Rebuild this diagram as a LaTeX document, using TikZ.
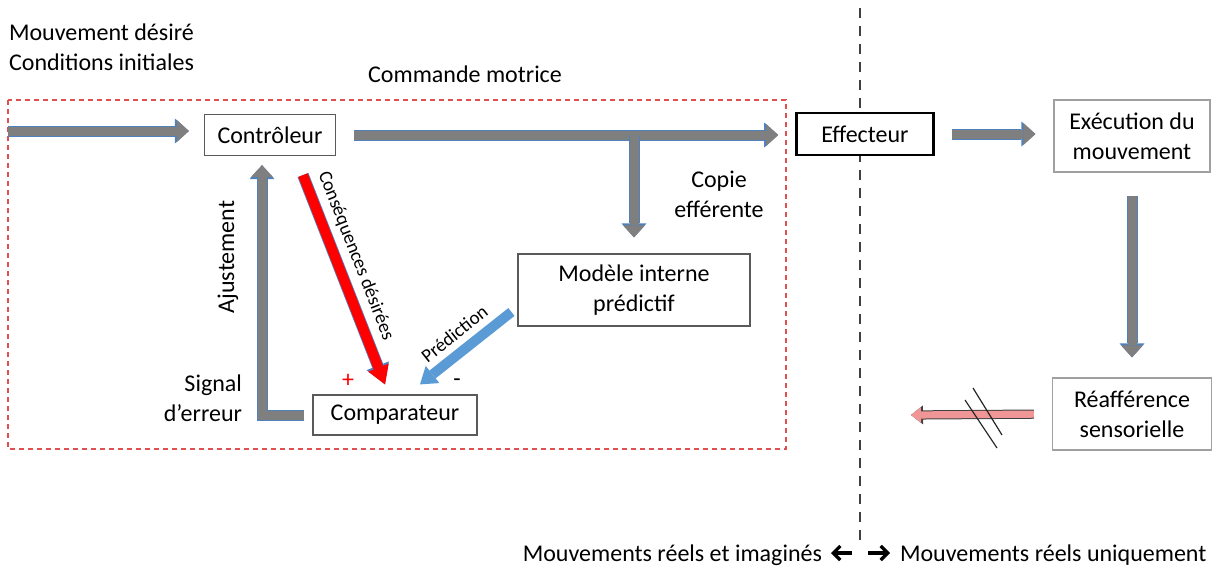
\documentclass[tikz,border=0pt]{standalone}
\usepackage{fontspec}
\setmainfont{Carlito}
\usetikzlibrary{calc}
\usetikzlibrary{arrows.meta}
\usetikzlibrary{positioning}
\definecolor{fatgray}{RGB}{127,127,127}
\definecolor{fatedge}{RGB}{79,129,189}
\definecolor{predblue}{RGB}{91,155,213}
\definecolor{boxline}{RGB}{90,90,90}
\definecolor{lightline}{RGB}{160,160,160}
\definecolor{dashred}{RGB}{225,80,80}
\definecolor{reafpink}{RGB}{240,150,150}
\tikzset{box/.style={draw=boxline,line width=0.6pt,fill=white,inner sep=0pt,align=center}}
\tikzset{fat/.style={line width=4.5pt,draw=fatgray,line join=miter,
    -{Triangle[width=11pt,length=6pt,line width=0pt,color=fatgray]},
    preaction={draw=fatedge,line width=5.5pt,line join=miter,
    -{Triangle[width=12.5pt,length=7pt,line width=0pt,color=fatedge]}}}}
\tikzset{redarrow/.style={line width=5pt,draw=red,
    -{Triangle[width=11pt,length=9pt,line width=0pt,color=red]},
    preaction={draw=fatedge,line width=5.8pt,
    -{Triangle[width=12pt,length=10pt,line width=0pt,color=fatedge]}}}}
\tikzset{predarrow/.style={line width=5pt,draw=predblue,
    -{Triangle[width=11pt,length=8pt,line width=0pt,color=predblue]}}}
\tikzset{reafarrow/.style={line width=3.6pt,draw=reafpink,
    -{Triangle[width=8pt,length=5pt,line width=0pt,color=reafpink]},
    preaction={draw=black!75,line width=4.6pt,
    -{Triangle[width=9.5pt,length=6pt,line width=0pt,color=black!75]}}}}
\tikzset{legarrow/.style={draw=black,line width=1.6pt,-{Straight Barb[width=7pt,length=3.5pt,line width=1.6pt]}}}
\tikzset{slash/.style={draw=black!85,line width=0.6pt}}
\tikzset{sepline/.style={draw=black!75,line width=1pt,dash pattern=on 5pt off 4pt}}
\tikzset{redbox/.style={draw=dashred,line width=0.6pt,dash pattern=on 2.5pt off 2pt}}
\tikzset{small/.style={font=\fontsize{9.5}{11}\selectfont}}

\begin{document}
\begin{tikzpicture}[x=0.5pt,y=-0.5pt,font=\fontsize{12}{15}\selectfont]
\useasboundingbox (0,0) rectangle (1228,568);

\draw[sepline] (860,8) -- (860,545);
\draw[redbox] (8,100) rectangle (786,449);

\node[anchor=west,align=left] (goal) at (2,47) {Mouvement désiré\\Conditions initiales};
\node (lblcmd) at (465,74) {Commande motrice};

\node[box,minimum width=65.5pt,minimum height=20.5pt] (ctrl) at (270,135) {Contrôleur};
\node[box,draw=black,line width=1.3pt,minimum width=68.5pt,minimum height=21pt] (eff) at (865,134) {Effecteur};
\node[box,draw=lightline,minimum width=78pt,minimum height=36pt] (exec) at (1132,136) {Exécution du\\mouvement};
\node[box,minimum width=116pt,minimum height=36pt] (model) at (634,290) {Modèle interne\\prédictif};
\node[box,minimum width=82pt,minimum height=20pt] (comp) at (395,415) {Comparateur};
\node[box,draw=lightline,minimum width=79.5pt,minimum height=36pt] (reaf) at (1132,414) {Réafférence\\sensorielle};

\node[align=center] (lblcopy) at (719,194) {Copie\\efférente};
\node[rotate=90] (lbladj) at (228,257) {Ajustement};
\node[anchor=east,align=right] (lblerr) at (249,398) {Signal\\d’erreur};
\node[text=red] (lblplus) at (348,381) {+};
\node (lblminus) at (457,383) {-};

% main chain
\coordinate (in) at (8,131);
\draw[fat,shorten >=7.5pt] (in) -- (in -| ctrl.west);
\draw[fat,shorten <=9pt,shorten >=8.5pt] (ctrl.east) -- (ctrl.east -| eff.west);
\coordinate (tap) at (ctrl.east -| model.north);
\draw[fat,shorten >=8pt] (tap) -- (model.north);
\draw[fat,shorten <=8.5pt,shorten >=9pt] (eff.east) -- (eff.east -| exec.west);
\draw[fat,shorten <=11.5pt,shorten >=10pt] (exec.south) -- (reaf.north);

% feedback loop
\draw[fat,shorten <=4pt,shorten >=4.5pt] (comp.west) -| ($(ctrl.south)+(-8,0)$);
\draw[redarrow] ($(ctrl.south)+(33,19)$) -- node[pos=0.42,sloped,above,small] {Conséquences désirées} ($(comp.north)+(-10,-10)$);
\draw[predarrow] ($(model.west)+(-6,22)$) -- node[midway,sloped,above,small] {Prédiction} ($(comp.north)+(25,-10)$);

% sensory return, cut
\coordinate (back) at (911,415);
\draw[reafarrow,shorten <=9pt] (reaf.west) -- (back);
\draw[slash] (965,400) -- (997,448);
\draw[slash] (973,388) -- (1002,435);

% legend
\coordinate (split) at (860,553);
\node[anchor=east] (lblleft) at (829,555) {Mouvements réels et imaginés};
\node[anchor=west] (lblright) at (893,555) {Mouvements réels uniquement};
\draw[legarrow] ($(split)+(-8,0)$) -- ($(lblleft.east)+(2,-2)$);
\draw[legarrow] ($(split)+(8,0)$) -- ($(lblright.west)+(-3,-2)$);
\end{tikzpicture}
\end{document}
